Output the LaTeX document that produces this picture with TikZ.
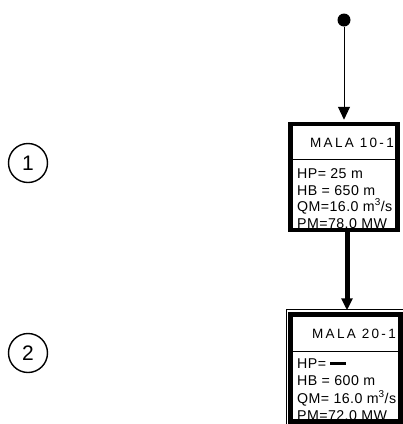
\documentclass[tikz,border=0pt]{standalone}
\usepackage{fontspec}
\setmainfont{Liberation Sans}
\newfontfamily\titlefont[LetterSpace=17]{Liberation Sans}
\newfontfamily\datafont[LetterSpace=3]{Liberation Sans}
\usetikzlibrary{arrows.meta}
\begin{document}
\begin{tikzpicture}[x=1pt,y=-1pt,
  plantbox/.style={draw,line width=4.5pt,rectangle,inner sep=0pt},
  sepline/.style={line width=0.9pt},
  titletext/.style={anchor=base east,inner sep=0pt,font=\titlefont\fontsize{13.5}{15}\selectfont},
  datatext/.style={anchor=base west,inner sep=0pt,font=\datafont\fontsize{14.2}{16}\selectfont},
  stagemark/.style={draw,circle,line width=1.4pt,minimum size=39pt,inner sep=0pt,font=\fontsize{21}{22}\selectfont},
  feeddot/.style={circle,fill,minimum size=13pt,inner sep=0pt},
  thinflow/.style={line width=1pt,-{Triangle[width=12pt,length=13pt]}},
  thickflow/.style={line width=5pt,-{Triangle[width=11pt,length=12pt]}}
]
\useasboundingbox (0,0) rectangle (403,424);

% stage markers
\node[stagemark] (s1) at (28,163) {1};
\node[stagemark] (s2) at (28,353) {2};

% source point
\node[feeddot] (src) at (344,20) {};

% first plant
\node[plantbox,minimum width=107pt,minimum height=106pt] (b1) at (344,177) {};
\draw[sepline] (292.5,159) coordinate (b1l) -- (395.5,159) coordinate (b1r);
\node[titletext] (t1) at (394,147) {MALA 10-1};
\node[datatext] (d1a) at (297,178) {HP= 25 m};
\node[datatext] (d1b) at (297,195) {HB = 650 m};
\node[datatext] (d1c) at (297,211) {QM=16.0 m\textsuperscript{3}/s};
\node[datatext] (d1d) at (297,228) {PM=78.0 MW};

% second plant
\draw[line width=0.8pt] (286,424) -- (286,309) -- (403,309);
\node[plantbox,minimum width=110pt,minimum height=107pt] (b2) at (345.5,368) {};
\draw[sepline] (292.5,351) coordinate (b2l) -- (398.5,351) coordinate (b2r);
\node[titletext] (t2) at (396,338) {MALA 20-1};
\node[datatext] (d2a) at (297,368) {HP= \rule[3.5pt]{16pt}{2.5pt}};
\node[datatext] (d2b) at (297,385) {HB = 600 m};
\node[datatext] (d2c) at (297,403) {QM= 16.0 m\textsuperscript{3}/s};
\node[datatext] (d2d) at (297,420) {PM=72.0 MW};

% flow connectors
\draw[thinflow,shorten >=2pt] (src) -- (b1.north);
\draw[thickflow,shorten >=2pt] ([xshift=3pt]b1.south) -- ([xshift=1.5pt]b2.north);
\end{tikzpicture}
\end{document}
